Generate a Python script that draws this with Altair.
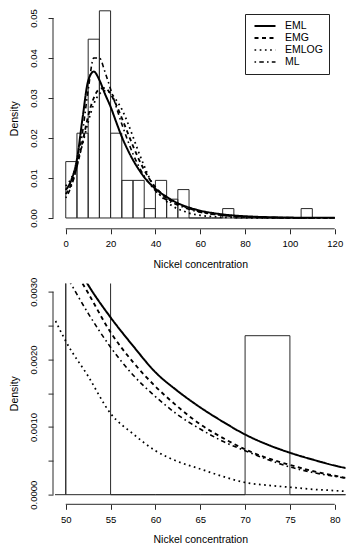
import altair as alt
import pandas as pd

# ---------------- data ----------------
bin_start = [0, 5, 10, 15, 20, 25, 30, 35, 40, 45, 50, 55, 60, 65, 70, 75, 80, 85, 90, 95, 100, 105]
bin_density = [0.0141, 0.0212, 0.0447, 0.0518, 0.0212, 0.0094, 0.0094, 0.00235, 0.0094, 0.0047,
               0.0071, 0, 0, 0, 0.00235, 0, 0, 0, 0, 0, 0, 0.00235]

curve_x = [0, 2.5, 5, 7.5, 10, 12.5, 15, 17.5, 20, 22.5, 25, 27.5, 30, 32.5, 35, 37.5, 40, 42.5,
           45, 47.5, 50, 52.5, 55, 57.5, 60, 62.5, 65, 67.5, 70, 72.5, 75, 77.5, 80, 82.5, 85,
           90, 95, 100, 105, 110, 115, 120]

eml = [0.0070, 0.0095, 0.0147, 0.0250, 0.0343, 0.0366, 0.0345, 0.0310, 0.0278, 0.0240, 0.0203,
       0.0172, 0.0145, 0.0122, 0.0102, 0.0086, 0.0073, 0.0062, 0.0053, 0.0044, 0.0037, 0.0031,
       0.00262, 0.00220, 0.00181, 0.00153, 0.00129, 0.00108, 0.00089, 0.00074, 0.00062, 0.00052,
       0.00043, 0.00036, 0.00030, 0.00021, 0.00015, 0.00010, 0.00007, 0.00005, 0.00004, 0.00003]

emg = [0.0060, 0.0085, 0.0130, 0.0190, 0.0255, 0.0300, 0.0322, 0.0325, 0.0310, 0.0283, 0.0250,
       0.0215, 0.0180, 0.0148, 0.0120, 0.0096, 0.0077, 0.0062, 0.0049, 0.0042, 0.00355, 0.00298,
       0.00240, 0.00196, 0.00160, 0.00130, 0.00104, 0.00084, 0.00067, 0.00054, 0.00044, 0.00035,
       0.00028, 0.00022, 0.00018, 0.00011, 0.00007, 0.00004, 0.00003, 0.00002, 0.00001, 0.00001]

emlog = [0.0080, 0.0100, 0.0135, 0.0185, 0.0240, 0.0285, 0.0310, 0.0318, 0.0312, 0.0295, 0.0272,
         0.0240, 0.0203, 0.0165, 0.0130, 0.0098, 0.0074, 0.0055, 0.0041, 0.0030, 0.00227, 0.00175,
         0.00120, 0.00090, 0.00065, 0.00049, 0.00038, 0.00027, 0.00018, 0.00014, 0.00011, 0.00008,
         0.00006, 0.00004, 0.00003, 0.00002, 0.00001, 0.00001, 0.00001, 0.00001, 0.00001, 0.00001]

ml = [0.0050, 0.0080, 0.0130, 0.0215, 0.0320, 0.0400, 0.0400, 0.0365, 0.0322, 0.0278, 0.0235,
      0.0196, 0.0160, 0.0130, 0.0105, 0.0085, 0.0068, 0.0055, 0.0045, 0.0038, 0.00325, 0.00268,
      0.00218, 0.00177, 0.00145, 0.00118, 0.00097, 0.00079, 0.00065, 0.00052, 0.00041, 0.00033,
      0.00027, 0.00022, 0.00018, 0.00011, 0.00007, 0.00004, 0.00003, 0.00002, 0.00001, 0.00001]

series_names = ["EML", "EMG", "EMLOG", "ML"]
series_values = [eml, emg, emlog, ml]

top_xticks = [0, 20, 40, 60, 80, 100, 120]
top_yticks = [0, 0.01, 0.02, 0.03, 0.04, 0.05]
bot_xticks = [50, 55, 60, 65, 70, 75, 80]
bot_yticks = [0, 0.0005, 0.001, 0.0015, 0.002, 0.0025, 0.003]

# ---------------- tables ----------------
hist_df = pd.DataFrame({
    "x": bin_start,
    "xend": [s + 5 for s in bin_start],
    "density": bin_density,
    "base": [0.0] * len(bin_start),
})
rows = []
for name, vals in zip(series_names, series_values):
    for xv, dv in zip(curve_x, vals):
        rows.append({"x": xv, "density": dv, "series": name})
curve_df = pd.DataFrame(rows)

FONT = "Liberation Sans"
W = 290.5
DASHES = [[1, 0], [4, 3.5], [1.7, 3.5], [1.6, 3.2, 4.5, 3.2]]


def panel(xdom, ydom, xticks, yticks, ylab_expr, H, xoff, yoff, legend):
    xs = alt.Scale(domain=xdom, nice=False, zero=False)
    ys = alt.Scale(domain=ydom, nice=False, zero=False)
    xaxis = alt.Axis(values=xticks, title="Nickel concentration", domain=False, grid=False,
                     offset=xoff, tickSize=5, labelPadding=5, titlePadding=11,
                     labelFlush=False, labelOverlap=False)
    yaxis = alt.Axis(values=yticks, title="Density", domain=False, grid=False,
                     offset=yoff, tickSize=5, labelPadding=10, titlePadding=9,
                     labelAngle=270, labelAlign="center", labelBaseline="bottom",
                     labelExpr=ylab_expr, labelFlush=False, labelOverlap=False)

    def X(f):
        return alt.X(f, type="quantitative", scale=xs, axis=xaxis)

    def Y(f):
        return alt.Y(f, type="quantitative", scale=ys, axis=yaxis)

    bars = alt.Chart(hist_df).mark_rect(
        fill="transparent", stroke="#2a2a2a", strokeWidth=1, clip=True
    ).encode(x=X("x"), x2="xend", y=Y("density"), y2="base")

    lines = alt.Chart(curve_df).mark_line(clip=True, color="black", interpolate="monotone").encode(
        x=X("x"),
        y=Y("density"),
        detail="series:N",
        strokeDash=alt.StrokeDash(
            "series:N",
            scale=alt.Scale(domain=series_names, range=DASHES),
            legend=legend,
        ),
        strokeWidth=alt.StrokeWidth(
            "series:N",
            scale=alt.Scale(domain=series_names, range=[2, 1.6, 2.0, 1.6]),
            legend=None,
        ),
    )

    xline_df = pd.DataFrame({"x": [xticks[0]], "xend": [xticks[-1]]})
    yline_df = pd.DataFrame({"y": [yticks[0]], "yend": [yticks[-1]]})
    xline = alt.Chart(xline_df).mark_rule(color="#2a2a2a", strokeWidth=1).encode(
        x=X("x"), x2="xend", y=alt.value(H + xoff)
    )
    yline = alt.Chart(yline_df).mark_rule(color="#2a2a2a", strokeWidth=1).encode(
        y=Y("y"), y2="yend", x=alt.value(-yoff)
    )
    return alt.layer(bars, lines, xline, yline).properties(width=W, height=H)


top_legend = alt.Legend(
    title=None, orient="none", legendX=190, legendY=4,
    symbolType="M-2.1,0L2.1,0", symbolSize=100, symbolStrokeWidth=1.9,
    symbolStrokeColor="black", symbolFillColor="transparent", symbolOffset=8,
    labelFont=FONT, labelFontSize=10.5, labelColor="black", labelOffset=14,
    padding=6, strokeColor="#222", fillColor="white", rowPadding=0,
)

top = panel([-4.8, 124.8], [-0.00208, 0.052], top_xticks, top_yticks,
            "format(datum.value, '.2f')", 216.3, 2.5, 2, top_legend)
bottom = panel([48.8, 81.2], [-0.00012, 0.00312], bot_xticks, bot_yticks,
               "round(datum.value * 2000) % 2 == 0 ? format(datum.value, '.4f') : ''",
               219.2, 1.5, 2, None)

chart = alt.vconcat(top, bottom, spacing=56.6, bounds="flush").properties(
    padding={"left": 0, "top": 0, "right": 2, "bottom": 0}
).configure_view(stroke=None).configure_axis(
    labelFont=FONT, titleFont=FONT, labelFontSize=9.5, titleFontSize=10.5,
    titleFontWeight="normal", labelColor="black", titleColor="black",
    tickColor="#2a2a2a", tickWidth=1,
)

chart.save("out.html", embed_options={"renderer": "svg", "actions": False})
